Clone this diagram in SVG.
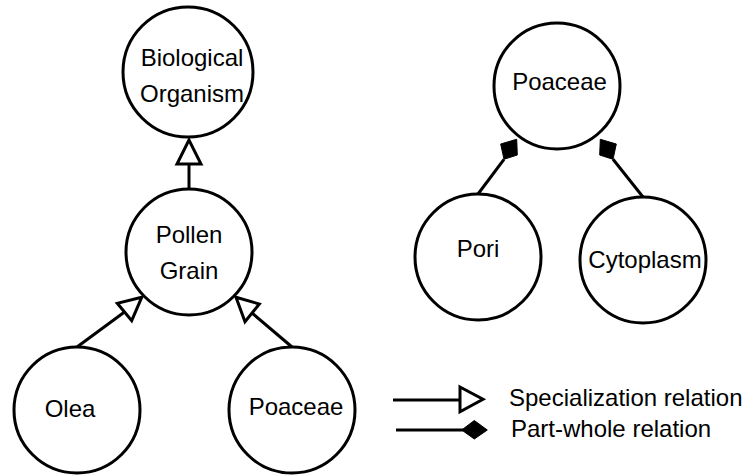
<svg xmlns="http://www.w3.org/2000/svg" width="749" height="475" viewBox="0 0 749 475">
<style>
.n{fill:#fff;stroke:#000;stroke-width:3}
.t{font-family:"Liberation Sans",Arial,sans-serif;font-size:24px;fill:#000;text-anchor:middle}
.tl{font-family:"Liberation Sans",Arial,sans-serif;font-size:24px;fill:#000}
.l{stroke:#000;stroke-width:3;fill:none}
.tri{fill:#fff;stroke:#000;stroke-width:3;stroke-linejoin:miter}
.dia{fill:#000;stroke:#000;stroke-width:1}
</style>
<rect width="749" height="475" fill="#fff"/>
<g id="connectors">
<line class="l" x1="189" y1="190" x2="189" y2="164"/>
<polygon class="tri" points="189,140 177,164 201,164"/>
<line class="l" x1="77" y1="347" x2="124.5" y2="312"/>
<polygon class="tri" points="141.7,297.3 117.3,303.3 131.7,320.7"/>
<line class="l" x1="292" y1="347" x2="252" y2="313"/>
<polygon class="tri" points="236,297.3 259.3,304 245,321.7"/>
<line class="l" x1="478" y1="194" x2="504" y2="159.3"/>
<polygon class="dia" points="516.7,139.3 500.7,144 504,159.3 517.3,155"/>
<line class="l" x1="643" y1="197" x2="613" y2="159.3"/>
<polygon class="dia" points="600.3,139.3 616.3,144 613,159.3 599.7,155"/>
</g>
<g id="n-bio"><circle class="n" cx="188" cy="72" r="65"/><text class="t" x="192" y="66">Biological</text><text class="t" x="192" y="102">Organism</text></g>
<g id="n-pollen"><circle class="n" cx="189" cy="252" r="63"/><text class="t" x="189" y="243">Pollen</text><text class="t" x="189" y="279">Grain</text></g>
<g id="n-olea"><circle class="n" cx="77" cy="410" r="63"/><text class="t" x="70" y="417">Olea</text></g>
<g id="n-poaceae1"><circle class="n" cx="292" cy="410" r="63"/><text class="t" x="296" y="415">Poaceae</text></g>
<g id="n-poaceae2"><circle class="n" cx="557" cy="86" r="63"/><text class="t" x="559.5" y="90">Poaceae</text></g>
<g id="n-pori"><circle class="n" cx="478" cy="257" r="63"/><text class="t" x="478" y="257">Pori</text></g>
<g id="n-cyto"><circle class="n" cx="643" cy="260" r="63"/><text class="t" x="645" y="268">Cytoplasm</text></g>
<g id="legend">
<line class="l" x1="393" y1="400" x2="460" y2="400"/>
<polygon class="tri" points="460,387 483,399.3 460,411.7"/>
<text class="tl" x="509" y="406">Specialization relation</text>
<line class="l" x1="396" y1="430" x2="463" y2="430"/>
<polygon class="dia" points="461.7,430 474.3,420.5 487.3,430 474.3,439"/>
<text class="tl" x="511" y="437">Part-whole relation</text>
</g>
</svg>
